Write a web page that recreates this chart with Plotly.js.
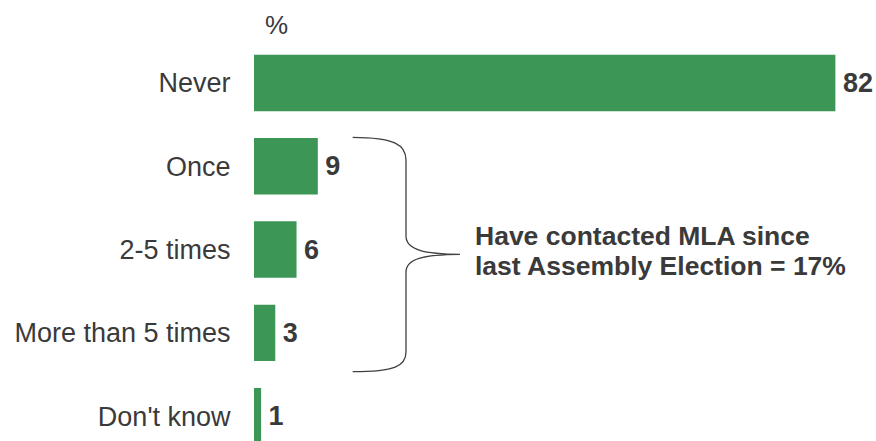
<!DOCTYPE html>
<html>
<head>
<meta charset="utf-8">
<script src="https://cdn.plot.ly/plotly-3.0.1.min.js"></script>
<style>html,body{margin:0;padding:0;background:#fff;}#chart{width:876px;height:441px;}</style>
</head>
<body>
<div id="chart"></div>
<script>
var categories = ["Never", "Once", "2-5 times", "More than 5 times", "Don't know"];
var values = [82, 9, 6, 3, 1];
var valueLabels = ["82", "9", "6", "3", "1"];
var unitLabel = "%";
var noteLines = ["Have contacted MLA since", "last Assembly Election = 17%"];

var W = 876, H = 441, ML = 254, MR = 0, MT = 0, MB = 0;
var PW = W - ML - MR, PH = H - MT - MB;
function px(x) { return (x - ML) / PW; }
function py(y) { return 1 - (y - MT) / PH; }
function pt(x, y) { return px(x).toFixed(5) + "," + py(y).toFixed(5); }

var FONT = "Liberation Sans, Arial, Helvetica, sans-serif";
var TXT = "#3a3a3a";

var bracket = "M " + pt(352.7, 137.3) +
  " C " + pt(395, 137.5) + " " + pt(406, 145) + " " + pt(406, 160) +
  " L " + pt(406, 236) +
  " C " + pt(406, 250) + " " + pt(425, 254) + " " + pt(460, 254.3) +
  " C " + pt(425, 254.6) + " " + pt(406, 258) + " " + pt(406, 272) +
  " L " + pt(406, 352) +
  " C " + pt(406, 366) + " " + pt(395, 371.5) + " " + pt(352.7, 371.7);

var trace = {
  type: "bar",
  orientation: "h",
  y: categories,
  x: values,
  text: valueLabels.map(function (s) { return "\u2006" + s; }),
  textposition: "outside",
  cliponaxis: false,
  textfont: {family: FONT, size: 27, color: TXT, weight: "bold"},
  marker: {color: "#3c9656", line: {width: 0}},
  hoverinfo: "none"
};

var layout = {
  width: W, height: H,
  margin: {l: ML, r: MR, t: MT, b: MB, pad: 0},
  paper_bgcolor: "#fff", plot_bgcolor: "#fff",
  showlegend: false,
  bargap: 0.322,
  font: {family: FONT, size: 27, color: TXT},
  xaxis: {range: [0, PW / 7.09], visible: false, fixedrange: true},
  yaxis: {
    type: "category",
    categoryorder: "array", categoryarray: categories,
    range: [4.298, -0.996],
    showgrid: false, zeroline: false, showline: false,
    ticks: "outside", ticklen: 17, tickcolor: "rgba(0,0,0,0)",
    tickfont: {family: FONT, size: 27, color: TXT},
    fixedrange: true
  },
  shapes: [{type: "path", xref: "paper", yref: "paper", path: bracket,
            line: {color: "#404040", width: 1.3}}],
  annotations: [
    {text: unitLabel, xref: "paper", yref: "paper", x: px(276), y: py(25),
     xanchor: "center", yanchor: "middle", showarrow: false,
     font: {family: FONT, size: 26, color: TXT}},
    {text: "<b>" + noteLines[0] + "</b>", xref: "paper", yref: "paper", x: px(473), y: py(236),
     xanchor: "left", yanchor: "middle", showarrow: false,
     font: {family: FONT, size: 26.5, color: TXT}},
    {text: "<b>" + noteLines[1] + "</b>", xref: "paper", yref: "paper", x: px(473), y: py(265.5),
     xanchor: "left", yanchor: "middle", showarrow: false,
     font: {family: FONT, size: 26.5, color: TXT}}
  ]
};

Plotly.newPlot("chart", [trace], layout, {staticPlot: true, displayModeBar: false});
</script>
</body>
</html>
